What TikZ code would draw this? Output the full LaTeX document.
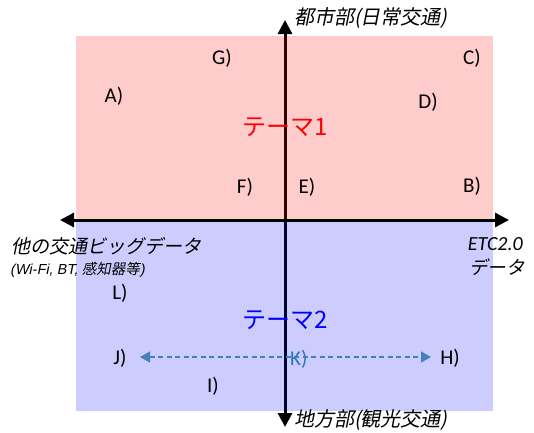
\documentclass[tikz,border=0pt]{standalone}
\usepackage{fontspec}
\setmainfont{Carlito}
\newfontfamily\jpsl{Noto Sans CJK JP}[FakeSlant=0.2]
\newfontfamily\jpup{Noto Sans CJK JP}
\newfontfamily\lsl{Liberation Sans}[FakeSlant=0.2]
\usetikzlibrary{arrows.meta}
\definecolor{kblue}{HTML}{2E75B6}
\definecolor{dashblue}{HTML}{4A7EBB}
\begin{document}
\begin{tikzpicture}[x=1pt,y=-1pt,
  lab/.style={font=\fontsize{21}{21}\selectfont, inner sep=0pt},
  axis/.style={line width=3pt, -{Triangle[length=14pt,width=14pt]}},
  axislab/.style={font=\jpsl\fontsize{20}{20}\selectfont, inner sep=0pt},
  theme/.style={font=\jpup\fontsize{24}{24}\selectfont, inner sep=0pt}]
\useasboundingbox (0,0) rectangle (534,432);
% axes
\coordinate (o) at (285,220);
\coordinate (top) at (285,20);
\coordinate (bot) at (285,427);
\coordinate (lft) at (60,220);
\coordinate (rgt) at (509,220);
\draw[axis] (o) -- (lft);
\draw[axis] (o) -- (rgt);
\draw[axis] (o) -- (top);
\draw[axis] (o) -- (bot);
% translucent backgrounds over the axes
\fill[red, fill opacity=0.2] (76,36) rectangle (493,218.5);
\fill[blue, fill opacity=0.2] (76,221.5) rectangle (493,411);
% axis labels
\node[axislab, anchor=west] (tl) at (294,18) {都市部(日常交通)};
\node[axislab, anchor=west] (bl) at (294,420) {地方部(観光交通)};
\node[axislab, anchor=west, font=\jpsl\fontsize{19}{19}\selectfont] (ll) at (11,246) {他の交通ビッグデータ};
\node[anchor=west, inner sep=0pt, font=\lsl\fontsize{14.5}{15}\selectfont] (ll2) at (10,270) {(Wi-Fi, BT, {\jpsl 感知器等})};
\node[anchor=east, inner sep=0pt, font=\itshape\fontsize{20}{20}\selectfont] (rl) at (523,244) {ETC2.0};
\node[axislab, anchor=east, font=\jpsl\fontsize{18.5}{18.5}\selectfont] (rl2) at (525,267) {データ};
% themes
\node[theme, text=red] (t1) at (285,127) {テーマ1};
\node[theme, text=blue] (t2) at (285,320) {テーマ2};
% labels
\node[lab] (G) at (222,58) {G)};
\node[lab] (C) at (472,58) {C)};
\node[lab] (A) at (114,96) {A)};
\node[lab] (D) at (428,102) {D)};
\node[lab] (F) at (245,187) {F)};
\node[lab] (E) at (307,187) {E)};
\node[lab] (B) at (472,186) {B)};
\node[lab] (L) at (120,293) {L)};
\node[lab] (J) at (120,358) {J)};
\node[lab] (H) at (450,358) {H)};
\node[lab] (I) at (213,386) {I)};
\node[lab, text=kblue, anchor=west] (K) at (290,359) {K)};
\coordinate (dl) at (140,357);
\coordinate (dr) at (431,357);
\draw[dashblue, dash pattern=on 5pt off 3.5pt, line width=1.2pt, {Triangle[length=10pt,width=11pt]}-{Triangle[length=10pt,width=11pt]}] (dl) -- (dr);
\end{tikzpicture}
\end{document}
